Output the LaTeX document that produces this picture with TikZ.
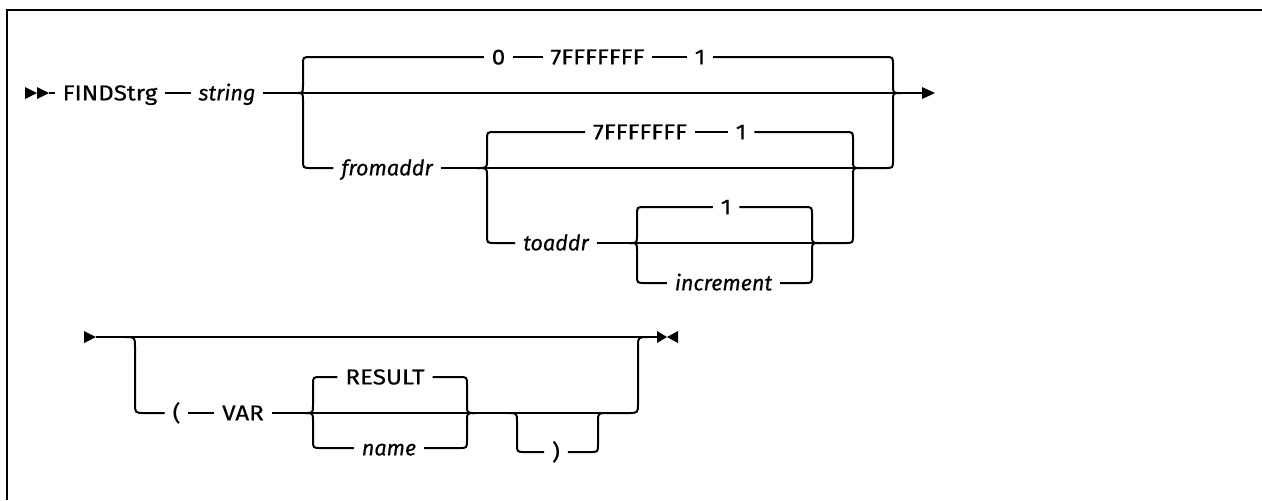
\documentclass[tikz,border=0pt]{standalone}
\usepackage{fontspec}
\setmainfont{Fira Sans}[FakeBold=0.5]
\newfontfamily\kwfont{Fira Sans}[FakeStretch=1.12,FakeBold=0.5]
\begin{document}
\begin{tikzpicture}[x=0.5pt,y=-0.5pt,line width=1pt,
  kw/.style={font=\fontsize{10.8}{13}\kwfont,inner xsep=3.5pt,inner ysep=0pt,
             text height=7.4pt,text depth=0pt},
  var/.style={kw,font=\fontsize{10.8}{13}\selectfont\itshape},
  tipmark/.style={fill=black,draw=none},
  frame/.style={line width=1.2pt}]
\useasboundingbox (0,0) rectangle (1262,500);
\draw[frame] (7,500) -- (7,10) -- (1262,10);

% ---------- first line: FINDStrg string [range] ----------
\fill[tipmark] (25,87) -- (37,93) -- (25,99) -- cycle;
\fill[tipmark] (37,87) -- (49,93) -- (37,99) -- cycle;
\coordinate (s1) at (49,93);
\node[kw]  (find)  at (110,93) {FINDStrg};
\node[var] (str)   at (227,93)   {string};
\coordinate (b1) at (297,93);
\coordinate (m1) at (900,93);
\coordinate (e1) at (922,93);
\draw (s1) -- (find.west);
\draw (find.east) -- (str.west);
\draw (str.east) -- (b1);

% default range
\node[kw] (zero) at (498.5,57) {0};
\node[kw] (max1) at (597.5,57) {7FFFFFFF};
\node[kw] (one1) at (700,57)   {1};
\draw (b1) .. controls (303,93) .. (303,85) -- (303,65) .. controls (303,57) .. (311,57) -- (zero.west);
\draw (zero.east) -- (max1.west);
\draw (max1.east) -- (one1.west);
\draw (one1.east) -- (885,57) .. controls (893,57) .. (893,65) -- (893,85) .. controls (893,93) .. (m1);
\draw (b1) -- (m1);
\draw (m1) -- (e1);
\fill[tipmark] (922,87) -- (935,93) -- (922,99) -- cycle;

% fromaddr
\node[var] (froma) at (387,168) {fromaddr};
\coordinate (b2) at (478,168);
\coordinate (m2) at (860,168);
\draw (b1) .. controls (303,93) .. (303,101) -- (303,160) .. controls (303,168) .. (311,168) -- (froma.west);
\draw (froma.east) -- (b2);
\draw (m2) -- (885,168) .. controls (893,168) .. (893,160) -- (893,101) .. controls (893,93) .. (m1);

% toaddr default
\node[kw] (max2) at (640,132) {7FFFFFFF};
\node[kw] (one2) at (741,132) {1};
\draw (b2) .. controls (487,168) .. (487,160) -- (487,140) .. controls (487,132) .. (495,132) -- (max2.west);
\draw (max2.east) -- (one2.west);
\draw (one2.east) -- (845,132) .. controls (853,132) .. (853,140) -- (853,160) .. controls (853,168) .. (m2);
\draw (b2) -- (m2);

% toaddr
\node[var] (toa) at (556,243) {toaddr};
\coordinate (b3) at (630,243);
\coordinate (m3) at (820,243);
\draw (b2) .. controls (487,168) .. (487,176) -- (487,235) .. controls (487,243) .. (495,243) -- (toa.west);
\draw (toa.east) -- (b3);
\draw (m3) -- (845,243) .. controls (853,243) .. (853,235) -- (853,176) .. controls (853,168) .. (m2);

% increment
\node[kw]  (one3) at (726,207)   {1};
\node[var] (incr) at (723.5,283) {increment};
\draw (b3) .. controls (637,243) .. (637,235) -- (637,215) .. controls (637,207) .. (645,207) -- (one3.west);
\draw (one3.east) -- (804,207) .. controls (812,207) .. (812,215) -- (812,235) .. controls (812,243) .. (m3);
\draw (b3) -- (m3);
\draw (b3) .. controls (637,243) .. (637,251) -- (637,275) .. controls (637,283) .. (645,283) -- (incr.west);
\draw (incr.east) -- (804,283) .. controls (812,283) .. (812,275) -- (812,251) .. controls (812,243) .. (m3);

% ---------- second line: ( VAR name ) ----------
\fill[tipmark] (84,331) -- (96,337) -- (84,343) -- cycle;
\coordinate (s2) at (96,337);
\coordinate (b4) at (125,337);
\coordinate (j2) at (648,337);
\coordinate (e2) at (657,337);
\draw (s2) -- (e2);
\fill[tipmark] (657,331) -- (667,337) -- (657,343) -- cycle;
\fill[tipmark] (678,331) -- (667,337) -- (678,343) -- cycle;

\node[kw] (lp)   at (176.5,413) {(};
\node[kw] (varn) at (243,413)   {VAR};
\coordinate (b5) at (305,413);
\coordinate (m5) at (475,413);
\draw (b4) .. controls (135,337) .. (135,347) -- (135,403) .. controls (135,413) .. (145,413) -- (lp.west);
\draw (lp.east) -- (varn.west);
\draw (varn.east) -- (b5);

\node[kw]  (res) at (385,377) {RESULT};
\node[var] (nm)  at (389,448) {name};
\draw (b5) .. controls (313,413) .. (313,405) -- (313,385) .. controls (313,377) .. (321,377) -- (res.west);
\draw (res.east) -- (459,377) .. controls (467,377) .. (467,385) -- (467,405) .. controls (467,413) .. (m5);
\draw (b5) -- (m5);
\draw (b5) .. controls (313,413) .. (313,421) -- (313,440) .. controls (313,448) .. (321,448) -- (nm.west);
\draw (nm.east) -- (459,448) .. controls (467,448) .. (467,440) -- (467,421) .. controls (467,413) .. (m5);

% optional closing parenthesis
\coordinate (b6) at (508,413);
\coordinate (m6) at (607,413);
\node[kw] (rp) at (556,452) {)};
\draw (m5) -- (b6);
\draw (b6) -- (m6);
\draw (b6) .. controls (517,413) .. (517,422) -- (517,444) .. controls (517,452) .. (525,452) -- (rp.west);
\draw (rp.east) -- (590,452) .. controls (598,452) .. (598,444) -- (598,422) .. controls (598,413) .. (m6);
\draw (m6) -- (628,413) .. controls (638,413) .. (638,403) -- (638,347) .. controls (638,337) .. (j2);
\end{tikzpicture}
\end{document}
